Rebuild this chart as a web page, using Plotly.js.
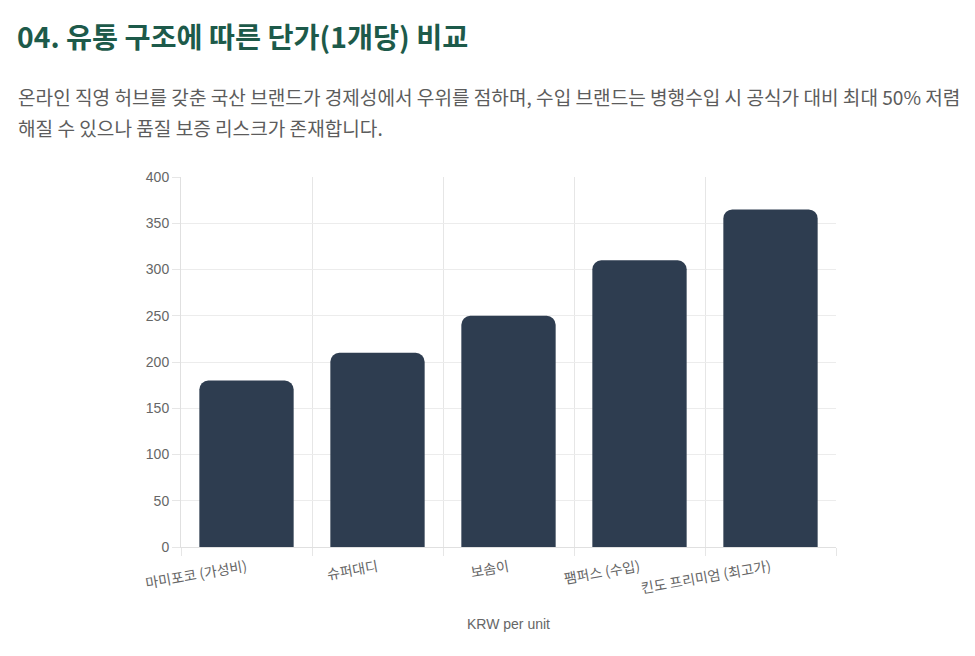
<!DOCTYPE html>
<html>
<head>
<meta charset="utf-8">
<script src="https://cdn.plot.ly/plotly-3.0.1.min.js"></script>
<style>
html,body{margin:0;padding:0;background:#fff;}
#chart{width:975px;height:656px;}
</style>
</head>
<body>
<div id="chart"></div>
<script>
const categories = ["마미포코 (가성비)", "슈퍼대디", "보솜이", "팸퍼스 (수입)", "킨도 프리미엄 (최고가)"];
const prices = [180, 210, 250, 310, 365];
const yTicks = [0, 50, 100, 150, 200, 250, 300, 350, 400];
const titleText = "04. 유통 구조에 따른 단가(1개당) 비교";
const subtitleLines = [
  "온라인 직영 허브를 갖춘 국산 브랜드가 경제성에서 우위를 점하며, 수입 브랜드는 병행수입 시 공식가 대비 최대 50% 저렴",
  "해질 수 있으나 품질 보증 리스크가 존재합니다."
];
const xTitle = "KRW per unit";

const W = 975, H = 656;
const m = {l: 181, r: 139, t: 177, b: 109};
const plotW = W - m.l - m.r;
const plotH = H - m.t - m.b;
const kr = '"Noto Sans CJK KR", "Noto Sans", sans-serif';
const latin = '"Liberation Sans", Arial, sans-serif';

const data = [{
  type: 'bar',
  x: categories,
  y: prices,
  marker: {color: '#2e3d50', cornerradius: 9, line: {width: 0}},
  hoverinfo: 'skip'
}];

const subAnn = subtitleLines.map((t, i) => ({
  text: t,
  xref: 'paper', yref: 'paper',
  x: (16 - m.l) / plotW,
  y: 1 + (m.t - (97 + i * 31)) / plotH,
  xanchor: 'left', yanchor: 'middle',
  showarrow: false,
  align: 'left',
  font: {family: kr, size: 19.1, color: '#5c5c5c'}
}));

const layout = {
  width: W, height: H,
  margin: m,
  paper_bgcolor: '#ffffff',
  plot_bgcolor: '#ffffff',
  showlegend: false,
  hovermode: false,
  bargap: 0.28,
  title: {
    text: '<b>' + titleText + '</b>',
    xref: 'container', yref: 'container',
    x: 17 / W, xanchor: 'left',
    y: 1 - 38 / H, yanchor: 'middle',
    font: {family: kr, size: 28.3, color: '#1d5a4a'}
  },
  xaxis: {
    type: 'category',
    tickson: 'boundaries',
    showgrid: true,
    gridcolor: '#e6e6e6',
    gridwidth: 1,
    ticks: 'outside',
    ticklen: 8,
    tickcolor: '#e6e6e6',
    showline: true,
    linecolor: '#e0e0e0',
    tickangle: -10,
    ticklabelstandoff: 6,
    tickfont: {family: kr, size: 14, color: '#666666'},
    title: {text: xTitle, standoff: 22, font: {family: latin, size: 14, color: '#666666'}},
    fixedrange: true
  },
  yaxis: {
    range: [0, 400],
    tickvals: yTicks,
    ticktext: yTicks.map(String),
    showgrid: true,
    gridcolor: '#ececec',
    gridwidth: 1,
    zeroline: false,
    ticks: 'outside',
    ticklen: 8,
    tickcolor: '#e6e6e6',
    showline: true,
    linecolor: '#e0e0e0',
    tickfont: {family: latin, size: 14, color: '#666666'},
    fixedrange: true
  },
  annotations: subAnn
};

Plotly.newPlot('chart', data, layout, {displayModeBar: false, staticPlot: true});
</script>
</body>
</html>
